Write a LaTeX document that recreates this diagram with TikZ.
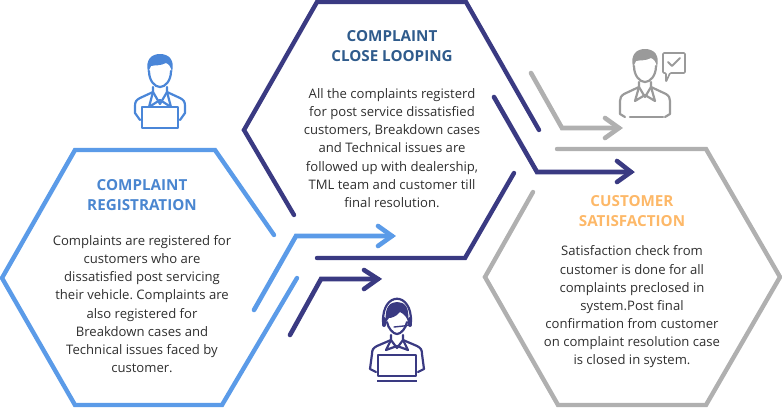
\documentclass[tikz,border=0pt]{standalone}
\usepackage{fontspec}
\setmainfont{Open Sans}
\frenchspacing
\definecolor{regBlue}{HTML}{5B9BE8}
\definecolor{iconBlue}{HTML}{4A86D8}
\definecolor{loopNavy}{HTML}{3A3A82}
\definecolor{satGray}{HTML}{B0B0B0}
\definecolor{iconGray}{HTML}{9A9A9A}
\definecolor{regTitle}{HTML}{4A86D0}
\definecolor{loopTitle}{HTML}{2F5B8C}
\definecolor{satTitle}{HTML}{FDB868}
\definecolor{bodyText}{HTML}{2E2E2E}
\newcommand{\headIcon}{%%
  \fill (-12,-1) .. controls (-15,-14) and (-8,-19) .. (0,-19)
    .. controls (9,-19) and (15,-13) .. (12,-1)
    .. controls (11,-6) and (9,-9) .. (6,-10)
    .. controls (1,-7) and (-6,-8) .. (-9,-7)
    .. controls (-10,-5) and (-11,-3) .. (-12,-1) -- cycle;
  \draw (-11,-2) .. controls (-11,8) and (-5,14) .. (0,14)
    .. controls (5,14) and (11,8) .. (11,-2);
}
\newcommand{\bodyIcon}{%%
  \draw (-7,14) -- (-7,19) -- (0,31) -- (7,19) -- (7,14);
  \draw (-7,19) -- (-20,25) .. controls (-24,27) and (-25,29) .. (-25,33) -- (-25,40) -- (-20,47);
  \draw (7,19) -- (20,25) .. controls (24,27) and (25,29) .. (25,33) -- (25,40) -- (20,47);
  \draw (-7,19) -- (-11,34) -- (0,27) -- (11,34) -- (7,19);
}
\begin{document}
\begin{tikzpicture}[x=1pt,y=-1pt,%%
  hexStyle/.style={line width=4.4pt,line cap=round,line join=miter},
  tipStyle/.style={line width=4.6pt,line cap=round,line join=miter},
  titleStyle/.style={font=\bfseries\fontsize{15.2}{20.5}\selectfont,align=center,inner sep=0pt},
  textStyle/.style={font=\fontsize{13.1}{18.15}\selectfont,align=center,inner sep=0pt,text=bodyText},
  iconStyle/.style={line width=2.2pt,line cap=round,line join=round},
  laptopStyle/.style={line width=2.6pt,fill=white}
]
\useasboundingbox (0,0) rectangle (782,408);
%%
%% Corner points of the three hexagons.
%%
\coordinate (regA) at (274,235);
\coordinate (regB) at (215,150);
\coordinate (regC) at (75,150);
\coordinate (regD) at (2,278);
\coordinate (regE) at (75,405);
\coordinate (regF) at (222,405);
\coordinate (regG) at (297,278);
\coordinate (loopA) at (294,215);
\coordinate (loopB) at (244,130);
\coordinate (loopC) at (317,2);
\coordinate (loopD) at (466,2);
\coordinate (loopE) at (539,130);
\coordinate (loopF) at (514,173);
\coordinate (loopG) at (465,258);
\coordinate (loopH) at (317,258);
\coordinate (satA) at (533,192);
\coordinate (satB) at (485,277);
\coordinate (satC) at (558,405);
\coordinate (satD) at (706,405);
\coordinate (satE) at (780,277);
\coordinate (satF) at (706,149);
\coordinate (satG) at (557,149);
%%
%% The hexagons.
%%
\draw[hexStyle,regBlue] (regA) -- (regB) -- (regC) -- (regD) -- (regE) -- (regF) -- (regG);
\draw[hexStyle,loopNavy] (loopA) -- (loopB) -- (loopC) -- (loopD) -- (loopE);
\draw[hexStyle,loopNavy] (loopF) -- (loopG) -- (loopH);
\draw[hexStyle,satGray] (satA) -- (satB) -- (satC) -- (satD) -- (satE) -- (satF) -- (satG);
%%
%% The arrows between them.
%%
\coordinate (regTail) at (254,310);
\coordinate (regBend) at (296,236);
\coordinate (regTip) at (392,236);
\draw[tipStyle,regBlue] (regTail) -- (regBend) -- (regTip);
\draw[tipStyle,regBlue] (378,226) -- (regTip) -- (378,246);
\coordinate (agentTail) at (290,335);
\coordinate (agentBend) at (321,279);
\coordinate (agentTip) at (378,279);
\draw[tipStyle,loopNavy] (agentTail) -- (agentBend) -- (agentTip);
\draw[tipStyle,loopNavy] (364,270) -- (agentTip) -- (364,289);
\coordinate (loopTail) at (494,97);
\coordinate (loopBend) at (537,172);
\coordinate (loopTip) at (631,172);
\draw[tipStyle,loopNavy] (loopTail) -- (loopBend) -- (loopTip);
\draw[tipStyle,loopNavy] (617,161) -- (loopTip) -- (617,182);
\coordinate (satTail) at (531,73);
\coordinate (satBend) at (562,128);
\coordinate (satTip) at (619,128);
\draw[tipStyle,satGray] (satTail) -- (satBend) -- (satTip);
\draw[tipStyle,satGray] (605,118) -- (satTip) -- (605,138);
%%
%% Titles and texts.
%%
\node[titleStyle,text=regTitle] (regName) at (142,195) {COMPLAINT\\REGISTRATION};
\node[textStyle] (regText) at (142,304) {Complaints are registered for\\customers who are\\dissatisfied post servicing\\their vehicle. Complaints are\\also registered for\\Breakdown cases and\\Technical issues faced by\\customer.};
\node[titleStyle,text=loopTitle] (loopName) at (392,46) {COMPLAINT\\CLOSE LOOPING};
\node[textStyle] (loopText) at (392,148) {All the complaints registerd\\for post service dissatisfied\\customers, Breakdown cases\\and Technical issues are\\followed up with dealership,\\TML team and customer till\\final resolution.};
\node[titleStyle,text=satTitle] (satName) at (632,211) {CUSTOMER\\SATISFACTION};
\node[textStyle] (satText) at (632,307) {Satisfaction check from\\customer is done for all\\complaints preclosed in\\system.Post final\\confirmation from customer\\on complaint resolution case\\is closed in system.};
%%
%% The blue person.
%%
\begin{scope}[shift={(160,73)},iconStyle,draw=iconBlue,fill=iconBlue]
  \headIcon
  \bodyIcon
  \draw[laptopStyle] (-18,34) rectangle (18,55);
\end{scope}
%%
%% The person with a headset.
%%
\begin{scope}[shift={(397,325)},iconStyle,draw=loopNavy,fill=loopNavy]
  \fill (-11,-3) .. controls (-13,-19) and (-6,-23) .. (0,-23)
    .. controls (7,-23) and (13,-19) .. (11,-3)
    .. controls (10,-8) and (7,-11) .. (3,-13)
    .. controls (-1,-8) and (-6,-7) .. (-8,-7)
    .. controls (-9,-6) and (-10,-4) .. (-11,-3) -- cycle;
  \draw (-14,-3) .. controls (-15,-34) and (15,-34) .. (14,-3);
  \draw[line width=4pt] (-13,-6) -- (-13,0);
  \draw[line width=4pt] (13,-6) -- (13,0);
  \draw (-10,-3) .. controls (-9,3) and (-4,9) .. (0,9)
    .. controls (4,9) and (9,3) .. (10,-3);
  \draw[line width=1.4pt] (13,-1) .. controls (11,1) and (6,1) .. (-3,2);
  \draw (-6,10) -- (-6,15) -- (0,23) -- (6,15) -- (6,10);
  \draw (-6,15) -- (-20,21) .. controls (-24,23) and (-25,25) .. (-25,29) -- (-27,44) -- (-21,47);
  \draw (6,15) -- (20,21) .. controls (24,23) and (25,25) .. (25,29) -- (27,44) -- (21,47);
  \draw (-6,15) -- (-11,25) -- (0,21) -- (11,25) -- (6,15);
  \draw[laptopStyle] (-19,30) rectangle (19,51);
  \draw[line width=2.2pt,line cap=butt] (-20,56) -- (20,56);
\end{scope}
%%
%% The gray person and the speech bubble.
%%
\begin{scope}[shift={(645,68)},iconStyle,draw=iconGray,fill=iconGray]
  \headIcon
  \draw (-6,14) -- (-6,19) -- (0,29) -- (6,19) -- (6,14);
  \draw (-6,19) -- (-21,26) .. controls (-24,28) and (-25,30) .. (-25,33) -- (-25,46) -- (-20,49);
  \draw (6,19) -- (21,26) .. controls (24,28) and (25,30) .. (25,33) -- (25,46) -- (20,49);
  \draw (-6,19) -- (-10,33) -- (0,27) -- (10,33) -- (6,19);
  \draw (-15,49) -- (18,49);
  \draw[line width=1.6pt,rounded corners=1pt] (18,1) -- (18,-15) -- (40,-15) -- (40,5) -- (25,5) -- (21,14) -- (21,5) -- (18,5) -- cycle;
  \draw[line width=2pt] (23,-6) -- (27,-2) -- (35,-10);
\end{scope}
\end{tikzpicture}
\end{document}
